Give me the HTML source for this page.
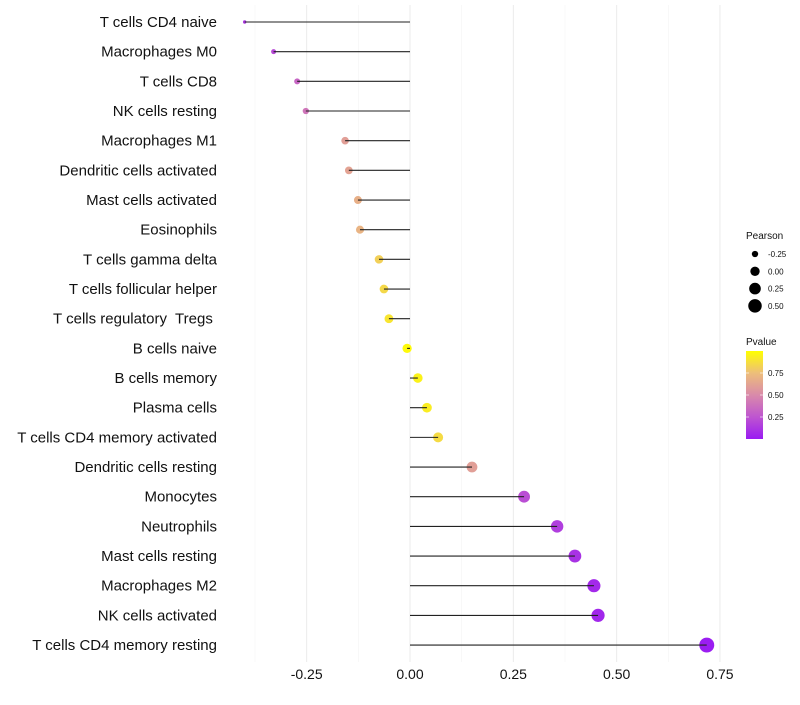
<!DOCTYPE html>
<html><head><meta charset="utf-8"><style>
body{margin:0;background:#fff;font-family:"Liberation Sans",sans-serif}
</style></head><body>
<svg id="c" width="800" height="700" xmlns="http://www.w3.org/2000/svg" style="font-family:'Liberation Sans',sans-serif"></svg>
<script>
const categories=["T cells CD4 naive","Macrophages M0","T cells CD8","NK cells resting","Macrophages M1","Dendritic cells activated","Mast cells activated","Eosinophils","T cells gamma delta","T cells follicular helper","T cells regulatory  Tregs ","B cells naive","B cells memory","Plasma cells","T cells CD4 memory activated","Dendritic cells resting","Monocytes","Neutrophils","Mast cells resting","Macrophages M2","NK cells activated","T cells CD4 memory resting"];
const pearson=[-0.40,-0.33,-0.273,-0.252,-0.157,-0.148,-0.126,-0.121,-0.075,-0.063,-0.051,-0.007,0.019,0.041,0.068,0.15,0.276,0.356,0.399,0.445,0.455,0.718];
const pvalue=[0.12,0.2,0.33,0.4,0.6,0.62,0.68,0.7,0.82,0.85,0.9,0.98,0.95,0.93,0.86,0.6,0.22,0.15,0.1,0.06,0.05,0.01];
const xTicks=[-0.25,0,0.25,0.5,0.75];
const xTickLabels=["-0.25","0.00","0.25","0.50","0.75"];
const sizeBreaks=[-0.25,0,0.25,0.5];
const sizeLabels=["-0.25","0.00","0.25","0.50"];
const pBreaks=[0.25,0.5,0.75];
const pLabels=["0.25","0.50","0.75"];

const svg=document.getElementById('c');const NS="http://www.w3.org/2000/svg";
function mk(t,a,p){const e=document.createElementNS(NS,t);for(const k in a)e.setAttribute(k,a[k]);(p||svg).appendChild(e);return e;}
const x=v=>410+v*413.3;
const y=i=>22+i*29.67;
const r=v=>Math.sqrt(Math.max(2.9,21.9+47.4*v));
const stops=[[0,[154,27,242]],[0.25,[190,85,208]],[0.5,[217,138,170]],[0.75,[237,190,122]],[1,[255,255,0]]];
function col(p){for(let i=1;i<stops.length;i++){if(p<=stops[i][0]){const a=stops[i-1],b=stops[i];const t=(p-a[0])/(b[0]-a[0]);const c=a[1].map((v,j)=>Math.round(v+(b[1][j]-v)*t));return`rgb(${c})`;}}return'rgb(255,255,0)';}
for(let v=-0.375;v<=0.8;v+=0.125){const major=Math.abs(v/0.25-Math.round(v/0.25))<1e-6;
const g=mk('line',{x1:x(v),x2:x(v),y1:5,y2:662,stroke:major?'#ebebeb':'#f4f4f4','stroke-width':major?1:0.6});

}
xTicks.forEach((v,i)=>{const t=mk('text',{x:x(v),y:679,'text-anchor':'middle','font-size':14,fill:'#111'});t.textContent=xTickLabels[i];

});
categories.forEach((c,i)=>{
const t=mk('text',{x:217,y:y(i)+5,'text-anchor':'end','font-size':15,fill:'#111',style:'white-space:pre'});t.textContent=c;


const d=mk('circle',{cx:x(pearson[i]),cy:y(i),r:r(pearson[i]),fill:col(pvalue[i])});


const l=mk('line',{x1:x(0),x2:x(pearson[i]),y1:y(i),y2:y(i),stroke:'#222','stroke-width':1.1});


});
const lt=mk('text',{x:746,y:239,'font-size':10,fill:'#111'});lt.textContent='Pearson';


sizeBreaks.forEach((v,i)=>{const cy=254+i*17.3;
const c=mk('circle',{cx:755,cy:cy,r:r(v),fill:'#000'});


const t=mk('text',{x:768,y:cy+3,'font-size':8,fill:'#111'});t.textContent=sizeLabels[i];

});
const pt=mk('text',{x:746,y:345,'font-size':10,fill:'#111'});pt.textContent='Pvalue';


const defs=mk('defs',{});const lg=mk('linearGradient',{id:'g',x1:0,y1:1,x2:0,y2:0},defs);
stops.forEach(s=>mk('stop',{offset:s[0],'stop-color':`rgb(${s[1]})`},lg));
const py=p=>439-p*88;
const bar=mk('rect',{x:746,y:351,width:17,height:88,fill:'url(#g)'});


pBreaks.forEach((p,i)=>{
mk('line',{x1:746,x2:749,y1:py(p),y2:py(p),stroke:'#fff','stroke-width':0.6});
mk('line',{x1:760,x2:763,y1:py(p),y2:py(p),stroke:'#fff','stroke-width':0.6});
const t=mk('text',{x:768,y:py(p)+3,'font-size':8,fill:'#111'});t.textContent=pLabels[i];

});
</script>
</body></html>
